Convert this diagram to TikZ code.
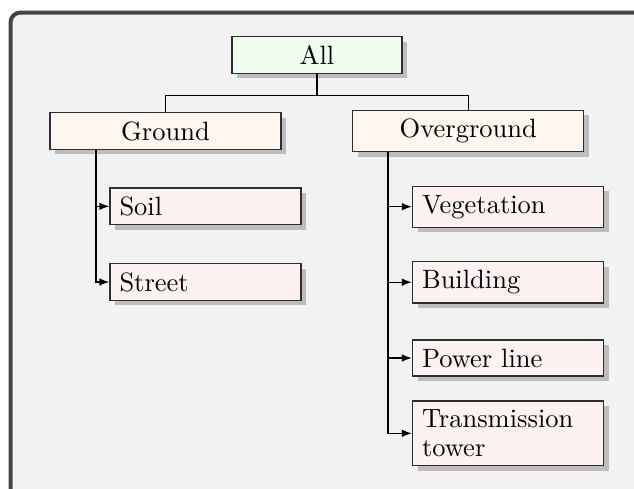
\documentclass[tikz,border=0pt]{standalone}
\usetikzlibrary{arrows.meta,shadows,calc}
\definecolor{framegrey}{HTML}{444444}
\definecolor{panelfill}{HTML}{F2F2F2}
\definecolor{rootfill}{HTML}{EFFDEF}
\definecolor{groupfill}{HTML}{FDF7F0}
\definecolor{leaffill}{HTML}{FDF1F1}
\definecolor{shadowgrey}{HTML}{BDBDBD}
\definecolor{edgegrey}{HTML}{2E2E2E}

\begin{document}
\begin{tikzpicture}[
  x=0.4pt, y=-0.4pt,
  font=\fontsize{10.6pt}{11.6pt}\selectfont,
  panel/.style={draw=framegrey, line width=1.6pt, fill=panelfill, rounded corners=4pt},
  box/.style={
    draw=edgegrey, line width=0.5pt, rectangle, inner xsep=3.8pt, inner ysep=3.5pt,
    drop shadow={shadow xshift=2pt, shadow yshift=-2pt, fill=shadowgrey, opacity=1}},
  root/.style={box, fill=rootfill, text width=60.4pt, align=center},
  group/.style={box, fill=groupfill, text width=84.8pt, align=center},
  leaf/.style={box, fill=leaffill, text width=68.8pt, align=left},
  tree/.style={black, line width=0.45pt},
  branch/.style={-{Latex[length=4pt, width=3pt]}, black, line width=0.55pt},
]
\useasboundingbox (0,0) rectangle (634,488);

% ================= frame ===========================================
\draw[panel] (10.5,12.5) rectangle (680,498);

% ================= levels ==========================================
\node[root]  (all)    at (317,55)    {All};
\node[group] (ground) at (165.5,131) {Ground};
\node[group] (over)   at (468.3,131) {Overground};

\node[leaf] (soil)   at (205.5,206.3) {Soil};
\node[leaf] (street) at (205.5,282)   {Street};

\node[leaf] (veg)    at (508,206.7) {Vegetation};
\node[leaf] (bldg)   at (508,282.2) {Building};
\node[leaf] (power)  at (508,358)   {Power line};
\node[leaf] (tower)  at (508,433.3) {Transmission tower};

% ================= relations =======================================
\draw[tree] (all.south) -- ++(0,22) -| (ground.north);
\draw[tree] (all.south) -- ++(0,22) -| (over.north);

\coordinate (gstem) at ($(ground.south west)+(46.7,0)$);
\coordinate (ostem) at ($(over.south west)+(36,0)$);
\foreach \n in {soil,street}
  \draw[branch] (gstem) |- (\n.west);
\foreach \n in {veg,bldg,power,tower}
  \draw[branch] (ostem) |- (\n.west);

\end{tikzpicture}
\end{document}
